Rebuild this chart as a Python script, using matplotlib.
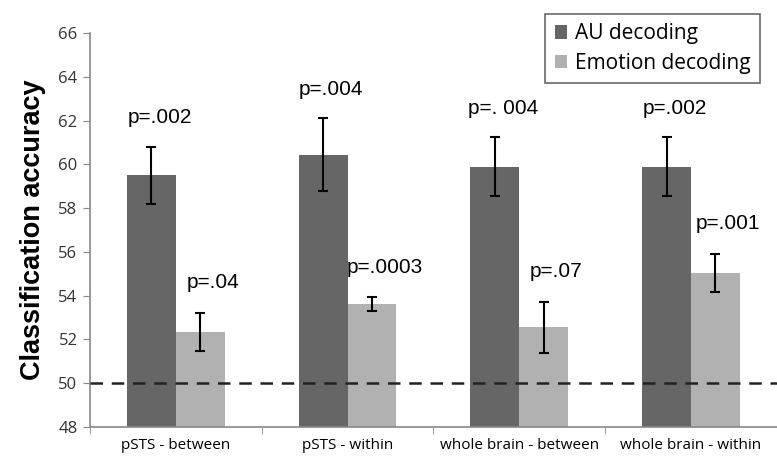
import numpy as np
import matplotlib
matplotlib.use("Agg")
from matplotlib import pyplot as plt

# datos
categorias = ['pSTS - between', 'pSTS - within', 'whole brain - between', 'whole brain - within']
au_acc = [59.5, 60.45, 59.9, 59.9]
au_err = [1.3, 1.65, 1.33, 1.34]
emo_acc = [52.35, 53.6, 52.55, 55.05]
emo_err = [0.88, 0.32, 1.15, 0.86]
au_p = ['p=.002', 'p=.004', 'p=. 004', 'p=.002']
emo_p = ['p=.04', 'p=.0003', 'p=.07', 'p=.001']
chance = 50

fig = plt.figure(figsize=(7.77, 4.58), dpi=100)
ax = fig.add_axes([0.1158, 0.0677, 0.884, 0.860])

x = np.arange(len(categorias))
w = 0.285

b1 = ax.bar(x - w/2, np.array(au_acc) - 48, w, bottom=48, color='#666666', label='AU decoding')
b2 = ax.bar(x + w/2, np.array(emo_acc) - 48, w, bottom=48, color='#b1b1b1', label='Emotion decoding')
ax.errorbar(x - w/2, au_acc, yerr=au_err, fmt='none', ecolor='black', elinewidth=1.5, capsize=3.5, capthick=1.5)
ax.errorbar(x + w/2, emo_acc, yerr=emo_err, fmt='none', ecolor='black', elinewidth=1.5, capsize=3.5, capthick=1.5)

ax.axhline(chance, color='#222222', lw=1.8, ls=(0, (5, 3.5)), zorder=5)

# etiquetas de p
for i in range(len(categorias)):
    ax.annotate(au_p[i], (x[i] - w/2, au_acc[i] + au_err[i]), xytext=(6, 14),
                textcoords='offset points', ha='center', va='bottom',
                fontsize=15, family='Liberation Sans')
    ax.annotate(emo_p[i], (x[i] + w/2, emo_acc[i] + emo_err[i]), xytext=(9, 15),
                textcoords='offset points', ha='center', va='bottom',
                fontsize=15, family='Liberation Sans')

ax.set_xlim(-0.5, len(categorias) - 0.5)
ax.set_ylim(48, 66)
ax.set_yticks(np.arange(48, 67, 2))
ax.set_xticks(x)
ax.set_xticklabels(categorias, fontsize=11, family='Open Sans')
ax.set_xticks(np.arange(-0.5, len(categorias), 1), minor=True)
ax.tick_params(axis='x', which='major', length=0, pad=8)
ax.tick_params(axis='x', which='minor', length=5, color='#888888')
ax.tick_params(axis='y', length=5, color='#888888', labelsize=12, pad=4)
for t in ax.get_yticklabels():
    t.set_family('Open Sans')
    t.set_color('#333333')

for s in ['top', 'right']:
    ax.spines[s].set_visible(False)
for s in ['left', 'bottom']:
    ax.spines[s].set_color('#888888')
    ax.spines[s].set_linewidth(1.2)

ax.set_ylabel('Classification accuracy', fontsize=19.5, fontweight='bold',
              family='Liberation Sans', labelpad=9)

leg = ax.legend(loc='upper right', bbox_to_anchor=(0.99, 1.075), fancybox=False,
                prop={'family': 'Open Sans', 'size': 15}, handlelength=0.6,
                handleheight=0.6, handletextpad=0.35, borderpad=0.45, labelspacing=0.4)
leg.get_frame().set_edgecolor('#444444')
leg.get_frame().set_linewidth(1.2)

fig.savefig('out.png', dpi=100)
